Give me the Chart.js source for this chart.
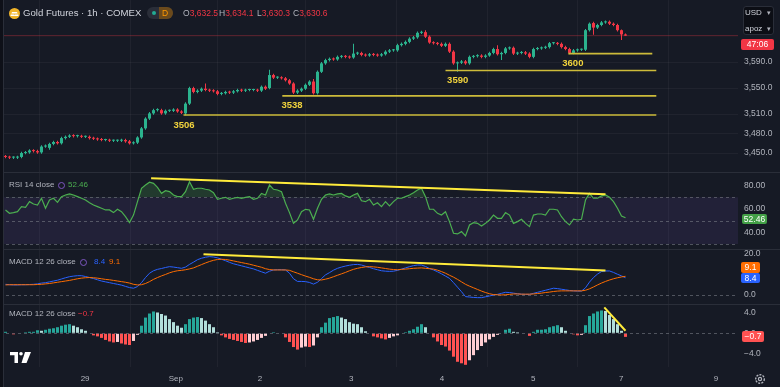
<!DOCTYPE html>
<html>
<head>
<meta charset="utf-8">
<script src="https://cdn.jsdelivr.net/npm/chart.js@4.4.1/dist/chart.umd.min.js"></script>
<style>
  html, body { margin: 0; padding: 0; background: #161a25; }
  #wrap { position: relative; width: 780px; height: 387px; overflow: hidden; background: #161a25;
          font-family: 'Liberation Sans', Arial, sans-serif; }
  canvas { position: absolute; left: 0; top: 0; }
  .t { position: absolute; white-space: nowrap; line-height: 1; }
  .badge { position: absolute; color: #fff; font-size: 8.5px; text-align: center; border-radius: 2px; }
  .gray { color: #b2b5be; }
  .red { color: #f23645; }
</style>
</head>
<body>
<div id="wrap">
  <canvas id="chart" width="780" height="387"></canvas>

  <div style="position:absolute;left:0;top:0;width:3px;height:387px;background:#0e1018;border-right:1px solid #2a2e39;"></div>

  <svg style="position:absolute;left:9px;top:8px" width="11" height="11" viewBox="0 0 11 11">
    <circle cx="5.5" cy="5.5" r="5.5" fill="#f0b429"/>
    <path d="M3 4 H8 L8.6 5.6 H2.4 Z M1.8 6.4 H5.2 L5.6 8 H1.4 Z M5.8 6.4 H9.2 L9.6 8 H5.4 Z" fill="#fff"/>
  </svg>
  <div class="t" style="left:23px;top:8px;font-size:9.6px;color:#d1d4dc;">Gold Futures · 1h · COMEX</div>
  <div style="position:absolute;left:147px;top:7px;width:26px;height:12px;border-radius:6px;background:#2a2e39;"></div>
  <div style="position:absolute;left:152px;top:11px;width:4px;height:4px;border-radius:2px;background:#22ab94;"></div>
  <div style="position:absolute;left:159px;top:7px;width:14px;height:12px;border-radius:0 6px 6px 0;background:#6b4a1c;"></div>
  <div class="t" style="left:162px;top:9px;font-size:8.5px;color:#ff9800;">D</div>
  <div class="t" style="left:183px;top:9px;font-size:8.5px;"><span class="gray">O</span><span class="red">3,632.5</span></div>
  <div class="t" style="left:219px;top:9px;font-size:8.5px;"><span class="gray">H</span><span class="red">3,634.1</span></div>
  <div class="t" style="left:257px;top:9px;font-size:8.5px;"><span class="gray">L</span><span class="red">3,630.3</span></div>
  <div class="t" style="left:293px;top:9px;font-size:8.5px;"><span class="gray">C</span><span class="red">3,630.6</span></div>

  <div style="position:absolute;left:743px;top:6px;width:31px;height:29px;background:#0c0e15;border:1px solid #2a2e39;border-radius:3px;box-sizing:border-box;"></div>
  <div class="t" style="left:745px;top:9px;font-size:8px;color:#d1d4dc;">USD</div>
  <div class="t" style="left:767px;top:9px;font-size:7px;color:#b2b5be;">▾</div>
  <div class="t" style="left:745px;top:25px;font-size:8px;color:#d1d4dc;">apoz</div>
  <div class="t" style="left:767px;top:25px;font-size:7px;color:#b2b5be;">▾</div>
  <div class="badge" style="left:741px;top:39px;width:33px;height:11px;line-height:11px;background:#f23645;">47:06</div>

  <div class="t" style="left:9px;top:181px;font-size:8px;color:#b2b5be;">RSI 14 close</div>
  <div style="position:absolute;left:58px;top:182px;width:5px;height:5px;border:1.5px solid #7e57c2;border-radius:50%;"></div>
  <div class="t" style="left:68px;top:181px;font-size:8px;color:#4caf50;">52.46</div>
  <div class="badge" style="left:742px;top:214px;width:25px;height:10px;line-height:10px;background:#43a047;">52.46</div>

  <div class="t" style="left:9px;top:258px;font-size:8px;color:#b2b5be;">MACD 12 26 close</div>
  <div style="position:absolute;left:80px;top:259px;width:5px;height:5px;border:1.5px solid #7e57c2;border-radius:50%;"></div>
  <div class="t" style="left:94px;top:258px;font-size:8px;color:#2962ff;">8.4</div>
  <div class="t" style="left:109px;top:258px;font-size:8px;color:#ff6d00;">9.1</div>
  <div class="badge" style="left:741px;top:262px;width:19px;height:11px;line-height:11px;background:#ff6d00;">9.1</div>
  <div class="badge" style="left:741px;top:273px;width:19px;height:10px;line-height:10px;background:#2962ff;">8.4</div>

  <div class="t" style="left:9px;top:310px;font-size:8px;color:#b2b5be;">MACD 12 26 close</div>
  <div class="t" style="left:78px;top:310px;font-size:8px;color:#f23645;">−0.7</div>
  <div class="badge" style="left:742px;top:331px;width:22px;height:11px;line-height:11px;background:#ff5252;">−0.7</div>

  <svg style="position:absolute;left:10px;top:352px" width="21" height="11" viewBox="0 0 21 11">
    <path d="M0 0 H8 V11 H4.5 V3.2 H0 Z" fill="#fff"/>
    <circle cx="11" cy="1.8" r="1.8" fill="#fff"/>
    <path d="M15 0 H21 L16.5 11 H11.5 Z" fill="#fff"/>
  </svg>
  <svg style="position:absolute;left:754px;top:373px" width="12" height="12" viewBox="0 0 12 12">
    <circle cx="6" cy="6" r="4.3" fill="none" stroke="#b2b5be" stroke-width="1.4" stroke-dasharray="2 1.2"/>
    <circle cx="6" cy="6" r="1.6" fill="none" stroke="#b2b5be" stroke-width="1.2"/>
  </svg>
</div>

<script>
// hourly bars, index 0 = first visible candle
const opens = [
  3445,3444,3443,3443,3444,3450,3451,3454,3453,3451,
  3460,3458,3464,3467,3465,3473,3475,3477,3476,3476,
  3475,3475,3473,3472,3471,3470,3470,3469,3469,3469,
  3470,3468,3465,3466,3474,3488,3503,3511,3516,3516,
  3511,3515,3515,3517,3514,3511,3526,3550,3544,3546,
  3549,3547,3546,3545,3541,3542,3544,3543,3545,3547,
  3546,3547,3547,3547,3546,3552,3550,3570,3566,3566,
  3565,3562,3557,3543,3546,3549,3555,3560,3542,3575,
  3588,3593,3595,3594,3598,3599,3598,3597,3603,3604,
  3601,3600,3602,3601,3600,3602,3606,3608,3608,3616,
  3618,3621,3626,3628,3635,3636,3629,3620,3619,3618,
  3615,3618,3606,3588,3589,3591,3588,3598,3599,3600,
  3598,3600,3604,3610,3602,3604,3611,3612,3603,3604,
  3605,3603,3598,3610,3611,3612,3613,3619,3619,3618,
  3613,3610,3604,3608,3609,3609,3639,3650,3643,3647,
  3651,3652,3649,3647,3639,3632.5
];
const highs = [
  3447,3446,3445,3446,3452,3453,3456,3456,3455,3462,
  3463,3466,3469,3469,3475,3477,3479,3479,3478,3478,
  3477,3477,3475,3474,3473,3472,3472,3471,3471,3472,
  3472,3470,3468,3476,3490,3505,3513,3518,3519,3518,
  3517,3517,3519,3519,3516,3528,3552,3552,3548,3551,
  3557,3549,3548,3547,3544,3546,3546,3547,3549,3549,
  3549,3549,3549,3549,3554,3554,3578,3572,3568,3568,
  3567,3564,3559,3548,3551,3557,3562,3564,3577,3590,
  3595,3597,3597,3600,3601,3601,3600,3618,3606,3606,
  3603,3604,3604,3603,3604,3608,3610,3610,3618,3620,
  3623,3628,3630,3637,3638,3639,3631,3622,3621,3620,
  3620,3620,3608,3591,3593,3593,3600,3601,3602,3602,
  3602,3606,3612,3616,3606,3613,3614,3614,3606,3607,
  3607,3605,3612,3613,3614,3615,3621,3621,3621,3620,
  3615,3612,3610,3611,3611,3641,3651,3652,3649,3653,
  3654,3654,3651,3649,3640,3634.1
];
const lows = [
  3442,3441,3441,3441,3442,3448,3449,3451,3449,3449,
  3458,3455,3462,3463,3463,3471,3473,3474,3474,3473,
  3473,3471,3470,3469,3468,3468,3467,3467,3467,3467,
  3466,3463,3463,3464,3472,3486,3501,3509,3514,3509,
  3509,3513,3513,3512,3510,3508,3524,3542,3542,3544,
  3545,3544,3543,3539,3539,3540,3541,3541,3543,3544,
  3544,3545,3545,3544,3544,3547,3548,3564,3564,3563,
  3560,3555,3541,3541,3544,3547,3553,3540,3540,3573,
  3586,3591,3592,3592,3596,3596,3595,3595,3601,3599,
  3598,3598,3599,3598,3598,3600,3604,3606,3606,3614,
  3616,3619,3624,3626,3633,3627,3618,3617,3616,3613,
  3613,3604,3586,3575,3587,3586,3586,3596,3597,3596,
  3596,3598,3602,3600,3593,3602,3609,3601,3601,3602,
  3601,3596,3596,3608,3609,3610,3611,3617,3616,3611,
  3608,3602,3602,3606,3607,3607,3637,3632,3641,3645,
  3649,3647,3645,3637,3624,3630.3
];
const closes = [
  3444,3443,3443,3444,3450,3451,3454,3453,3451,3460,
  3461,3464,3467,3465,3473,3475,3477,3476,3476,3475,
  3475,3473,3472,3471,3470,3470,3469,3469,3469,3470,
  3468,3465,3466,3474,3488,3503,3511,3516,3516,3511,
  3515,3515,3517,3514,3512,3526,3550,3544,3546,3549,
  3547,3546,3545,3541,3542,3544,3543,3545,3547,3546,
  3547,3547,3547,3546,3552,3549,3570,3566,3566,3565,
  3562,3557,3543,3546,3549,3555,3560,3542,3575,3588,
  3593,3595,3594,3598,3599,3598,3597,3603,3604,3601,
  3600,3602,3601,3600,3602,3606,3608,3608,3616,3618,
  3621,3626,3628,3635,3636,3629,3620,3619,3618,3615,
  3618,3606,3588,3589,3591,3588,3598,3599,3600,3598,
  3600,3604,3610,3602,3604,3611,3612,3603,3604,3605,
  3603,3598,3610,3611,3612,3613,3619,3619,3618,3613,
  3610,3604,3608,3609,3609,3639,3649,3643,3647,3651,
  3652,3649,3647,3639,3632.5,3630.6
];

const rsi = [
  59.2,56.3,56.9,57.7,62,61.4,66.3,64.3,63.4,69.2,
  60.6,67.7,69.2,65.7,70.6,72,72.9,72,70.6,69.2,
  67.7,65.4,63.4,62,60.6,59.2,59.2,56.9,59.7,57.7,
  53.4,48.3,54.8,66.3,77.8,80.6,83,82,78.6,73.4,
  75.7,74.9,72,70.6,70.6,74.9,83.4,76.9,77.8,77.8,
  76.9,76.3,74,68.3,69.2,70,68.3,69.2,70,69.2,
  70,70.6,68.3,69.2,73.4,72,80.6,76.9,76.3,74.9,
  64.9,56.9,47.8,50.6,57.7,59.7,59.2,51.2,60.6,68.3,
  72,72.9,72,72.9,73.4,71.2,70,72,73.4,67.1,
  66.3,68.3,63.4,65.4,62,66.3,62.6,66.3,69.2,69.2,
  70.6,72,74,76.3,77.8,70.6,59.8,59.8,56.3,54.8,
  57.7,49.2,39.2,38.6,40.6,36.9,46.3,48.3,47.7,45.4,
  47.7,50.6,54.8,52,52,56.9,54.8,47.7,49.2,51.2,
  47.7,44.9,54.8,55.7,55.7,54.8,59.8,59.8,59.2,53.4,
  49.2,46.3,51.2,50.6,51.2,67.7,73.4,69.2,69.2,71.2,
  72,70,66.3,60.6,54,52.46
];

const macd = [
  5.2,5.0,4.9,4.9,5.0,5.0,5.1,5.2,5.4,5.8,
  6.0,6.4,6.8,7.2,7.8,8.4,8.9,9.2,9.4,9.4,
  9.0,8.5,8.0,7.4,6.8,6.4,6.0,5.6,5.2,4.8,
  4.2,3.6,3.3,4.1,6.0,8.5,10.6,11.8,12.5,12.9,
  13.4,13.8,13.6,13.3,13.0,13.6,14.9,16.0,17.2,17.9,
  18.4,18.7,18.5,18.1,17.4,16.7,15.9,15.2,14.7,14.2,
  13.7,13.2,12.7,12.0,11.3,10.6,11.6,12.2,12.3,12.3,
  12.2,10.6,7.9,6.6,6.6,6.5,6.1,5.3,6.2,8.0,
  9.8,10.9,12.1,13.0,13.6,14.1,14.5,14.8,14.9,14.6,
  14.0,13.4,12.8,12.3,11.8,11.6,11.5,11.6,12.0,12.6,
  13.2,13.8,14.3,14.6,14.6,13.9,12.9,12.2,11.3,10.3,
  9.2,8.1,6.0,3.8,1.6,-0.8,-1.0,-1.2,-1.3,-1.3,
  -0.9,-0.5,0.0,0.3,0.8,1.3,1.2,0.9,0.6,0.4,
  0.3,0.3,0.8,1.3,1.8,2.3,2.8,3.3,3.1,2.8,
  2.5,2.2,2.0,1.9,1.9,3.5,6.3,8.5,10.2,11.4,
  11.7,11.7,11.0,10.1,9.3,8.4
];
const signal = [
  4.9,5.0,5.0,5.0,5.0,5.0,5.0,5.0,5.1,5.2,
  5.4,5.6,5.9,6.2,6.5,6.8,7.1,7.5,7.9,8.2,
  8.4,8.5,8.4,8.2,7.9,7.6,7.4,7.1,6.8,6.5,
  6.2,5.8,5.2,4.9,5.0,5.6,6.5,7.6,8.5,9.3,
  10.0,10.8,11.4,11.8,12.0,12.3,12.7,13.2,14.0,14.8,
  15.6,16.3,16.9,17.3,17.4,17.3,17.0,16.6,16.2,15.8,
  15.4,15.0,14.5,14.0,13.5,12.8,12.4,12.2,12.2,12.2,
  12.2,12.0,11.3,10.6,9.9,9.2,8.6,7.9,7.4,7.3,
  7.7,8.2,8.9,9.6,10.3,11.0,11.8,12.5,13.0,13.4,
  13.7,13.8,13.7,13.5,13.2,12.9,12.6,12.4,12.3,12.5,
  12.6,12.8,13.0,13.1,13.2,13.0,12.8,12.6,12.1,11.4,
  10.6,9.6,8.7,7.6,6.4,5.2,4.3,3.5,2.7,1.9,
  1.2,0.6,0.2,0.1,0.0,0.1,0.3,0.5,0.5,0.4,
  0.4,0.4,0.5,0.7,0.9,1.2,1.4,1.7,1.9,2.0,
  2.0,2.0,2.0,2.0,2.0,2.3,3.0,3.9,4.9,5.8,
  6.6,7.3,7.9,8.4,8.8,9.1
];
const hist = [
  0.3,-0.1,-0.2,-0.1,0.1,0.2,0.3,0.3,0.6,0.5,
  0.7,0.9,1.0,1.2,1.5,1.7,1.8,1.5,1.2,0.8,
  0.5,0.1,-0.4,-0.6,-0.9,-1.3,-1.6,-1.8,-1.7,-2.0,
  -2.2,-2.3,-1.5,-0.3,1.5,3.1,3.9,4.3,4.1,3.8,
  3.5,2.8,2.2,1.5,1.1,1.8,2.8,3.1,3.2,3.0,
  2.5,1.8,1.2,0.2,-0.4,-0.8,-1.1,-1.3,-1.5,-1.7,
  -1.9,-1.8,-1.6,-1.3,-0.9,-0.5,0.1,0.2,0.1,-0.1,
  -0.8,-1.7,-2.7,-3.2,-2.8,-2.6,-2.7,-2.4,-0.8,1.2,
  2.1,3.0,3.2,3.4,3.1,2.8,2.2,1.9,1.8,1.2,
  0.4,0.0,-0.6,-0.8,-1.0,-1.2,-0.9,-0.6,-0.4,-0.1,
  0.2,0.5,0.8,1.3,1.8,1.2,0.0,-0.8,-1.6,-2.3,
  -2.6,-3.4,-4.6,-5.6,-5.9,-6.2,-5.3,-4.3,-3.3,-2.5,
  -1.8,-1.2,-0.7,-0.3,0.1,0.7,0.9,0.3,0.2,0.1,
  -0.1,-0.5,0.3,0.7,0.7,0.8,1.2,1.4,1.6,1.2,
  0.5,-0.1,-0.2,-0.4,-0.3,1.6,3.4,3.9,4.3,4.5,
  4.4,3.6,2.8,1.8,0.5,-0.7
];

// support levels drawn on the price pane (bar index range)
const levelPrices = [3508.5, 3538, 3577, 3603];
const levelStart = [44.5, 69.2, 110, 140.7];
const levelEnd = [162.7, 162.7, 162.7, 161.7];
const levelLabels = ['3506', '3538', '3590', '3600'];
const levelLabelAt = [42, 69, 110.4, 139.2];

// trendlines: [x0, y0, x1, y1]
const rsiTrend = [36.4, 86.3, 150, 72.6];
const macdTrend = [49.5, 19.9, 150, 11.9];
const histTrend = [149.7, 5.1, 155, 0.5];

const dayTicks = [19.9, 42.6, 63.6, 86.4, 109.1, 131.9, 153.9, 177.6];
const dayLabels = ['29', 'Sep', '2', '3', '4', '5', '7', '9'];
const priceTicks = [3450, 3480, 3510, 3550, 3590];
const rsiTicks = [40, 60, 80];
const rsiGuides = [70, 50, 30];
const macdTicks = [0, 20];
const histTicks = [-4, 0, 4];
const lastPrice = 3630.6;

const FONT = "'Liberation Sans', Arial, sans-serif";
const AXIS_TEXT = '#b2b5be';
const GRID = 'rgba(255,255,255,0.045)';
const UP = '#2bb38e', DOWN = '#f23645';
const YELLOW = '#ffeb3b';

const idx = closes.map((_, i) => i);
const isUp = i => closes[i] >= opens[i];

function histColor(i) {
  const v = hist[i], prev = i > 0 ? hist[i - 1] : v;
  if (v >= 0) return v >= prev ? '#26a69a' : '#b2dfdb';
  return v <= prev ? '#ff5252' : '#ffcdd2';
}

function seg(t, axis) {
  return {
    type: 'line', yAxisID: axis,
    data: [{ x: t[0], y: t[1] }, { x: t[2], y: t[3] }],
    borderColor: YELLOW, borderWidth: 2, pointRadius: 0
  };
}

const datasets = [
  seg(rsiTrend, 'rsi'),
  seg(macdTrend, 'macd'),
  seg(histTrend, 'hist'),
  ...levelPrices.map((p, k) => ({
    type: 'line', yAxisID: 'price',
    data: [{ x: levelStart[k], y: p }, { x: levelEnd[k], y: p }],
    borderColor: '#cdbb3a', borderWidth: 1.6, pointRadius: 0
  })),
  {
    type: 'bar', yAxisID: 'price', grouped: false,
    data: idx.map(i => ({ x: i, y: [opens[i], closes[i]] })),
    backgroundColor: c => isUp(c.dataIndex) ? UP : DOWN,
    barThickness: 3, minBarLength: 1, inflateAmount: 0
  },
  {
    type: 'bar', yAxisID: 'price', grouped: false,
    data: idx.map(i => ({ x: i, y: [lows[i], highs[i]] })),
    backgroundColor: c => isUp(c.dataIndex) ? UP : DOWN,
    barThickness: 1, inflateAmount: 0
  },
  {
    type: 'line', yAxisID: 'price',
    data: [{ x: -2, y: lastPrice }, { x: 184, y: lastPrice }],
    borderColor: 'rgba(242,54,69,0.35)', borderWidth: 1, pointRadius: 0
  },
  {
    type: 'line', yAxisID: 'rsi',
    data: idx.map(i => ({ x: i, y: rsi[i] })),
    borderColor: '#4caf50', borderWidth: 1.2, pointRadius: 0,
    fill: { target: { value: 70 }, above: 'rgba(76,175,80,0.22)', below: 'rgba(0,0,0,0)' }
  },
  {
    type: 'line', yAxisID: 'macd',
    data: idx.map(i => ({ x: i, y: signal[i] })),
    borderColor: '#ff6d00', borderWidth: 1, pointRadius: 0
  },
  {
    type: 'line', yAxisID: 'macd',
    data: idx.map(i => ({ x: i, y: macd[i] })),
    borderColor: '#2962ff', borderWidth: 1, pointRadius: 0
  },
  {
    type: 'bar', yAxisID: 'hist', grouped: false,
    data: idx.map(i => ({ x: i, y: hist[i] })),
    backgroundColor: c => histColor(c.dataIndex),
    barThickness: 3, inflateAmount: 0
  }
];

// tick padding adds to the chart area insets, so the label gap comes from an invisible tick mark
function yAxis(weight, min, max, ticks, fmt, gridOn) {
  return {
    type: 'linear', position: 'right', stack: 'panes', stackWeight: weight,
    min: min, max: max,
    afterBuildTicks: sc => { sc.ticks = ticks.map(v => ({ value: v })); },
    afterFit: sc => { sc.width = 42; },
    ticks: {
      color: AXIS_TEXT, font: { size: 8.5, family: FONT, lineHeight: 0.01 },
      padding: 0, autoSkip: false, callback: fmt
    },
    grid: {
      display: true, color: gridOn ? GRID : 'rgba(0,0,0,0)',
      drawTicks: true, tickLength: 6, tickColor: 'rgba(0,0,0,0)'
    },
    border: { display: false }
  };
}

const panes = {
  id: 'panes',
  beforeDatasetsDraw(chart) {
    const { ctx, chartArea: a, scales: s } = chart;
    ctx.save();
    const y70 = s.rsi.getPixelForValue(70), y30 = s.rsi.getPixelForValue(30);
    ctx.fillStyle = 'rgba(126,87,194,0.12)';
    ctx.fillRect(a.left, y70, a.right - a.left, y30 - y70);
    ctx.setLineDash([3, 3]);
    ctx.strokeStyle = 'rgba(120,123,134,0.6)';
    ctx.lineWidth = 1;
    const dash = (sc, v) => {
      const y = Math.round(sc.getPixelForValue(v)) + 0.5;
      ctx.beginPath(); ctx.moveTo(a.left, y); ctx.lineTo(a.right, y); ctx.stroke();
    };
    rsiGuides.forEach(v => dash(s.rsi, v));
    dash(s.macd, 0);
    dash(s.hist, 0);
    ctx.restore();
  },
  afterDraw(chart) {
    const { ctx, scales: s } = chart;
    ctx.save();
    ctx.strokeStyle = '#2a2e39';
    ctx.lineWidth = 1;
    [s.rsi.top, s.macd.top, s.hist.top].forEach(t => {
      const y = Math.round(t) + 0.5;
      ctx.beginPath(); ctx.moveTo(0, y); ctx.lineTo(chart.width, y); ctx.stroke();
    });
    ctx.font = 'bold 9.5px ' + FONT;
    ctx.fillStyle = '#f2d43d';
    ctx.textBaseline = 'middle';
    levelLabels.forEach((t, k) => {
      ctx.fillText(t, s.x.getPixelForValue(levelLabelAt[k]), s.price.getPixelForValue(levelPrices[k]) + 10);
    });
    ctx.restore();
  }
};

new Chart(document.getElementById('chart'), {
  type: 'bar',
  data: { datasets: datasets },
  plugins: [panes],
  options: {
    responsive: false,
    animation: false,
    events: [],
    layout: { padding: 0 },
    plugins: { legend: { display: false }, tooltip: { enabled: false } },
    scales: {
      x: {
        type: 'linear', min: -1.375, max: 183.125, offset: false,
        afterBuildTicks: sc => { sc.ticks = dayTicks.map(v => ({ value: v })); },
        afterFit: sc => { sc.height = 20; },
        ticks: {
          color: AXIS_TEXT, font: { size: 8, family: FONT }, padding: 7,
          autoSkip: false, maxRotation: 0, callback: (v, i) => dayLabels[i]
        },
        grid: { color: GRID, drawTicks: false },
        border: { display: false }
      },
      price: yAxis(172, 3420.8, 3685.4, priceTicks,
        v => v.toLocaleString('en-US', { minimumFractionDigits: 1, maximumFractionDigits: 1 }), true),
      rsi: yAxis(77, 25.7, 91.7, rsiTicks, v => v.toFixed(2), false),
      macd: yAxis(55, -4.4, 22.4, macdTicks, v => v.toFixed(1), false),
      hist: yAxis(63, -6.63, 5.77, histTicks, v => (v < 0 ? '\u2212' : '') + Math.abs(v).toFixed(1), false)
    }
  }
});
</script>
</body>
</html>
